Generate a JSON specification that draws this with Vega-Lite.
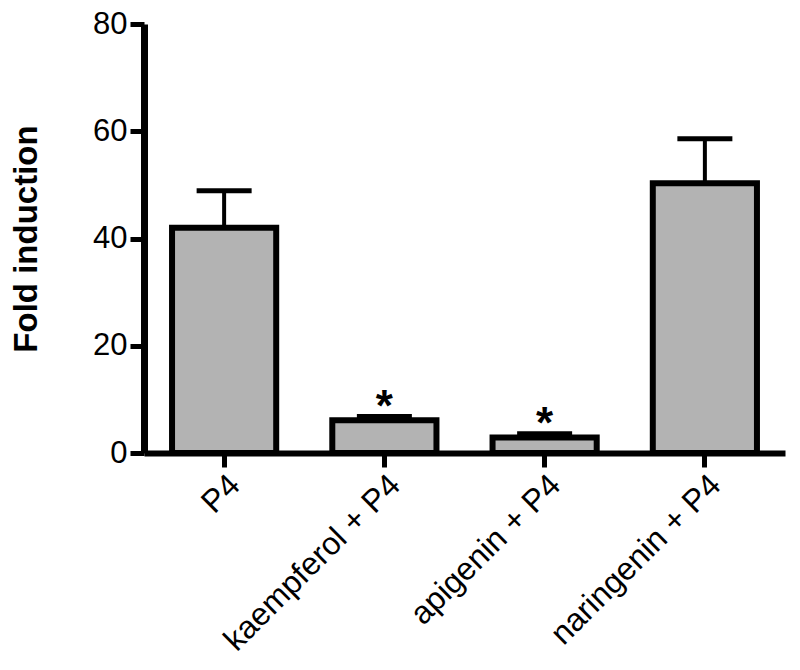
{
  "$schema": "https://vega.github.io/schema/vega-lite/v6.json",
  "width": 641,
  "height": 429,
  "autosize": {"type": "none"},
  "padding": {"left": 144, "top": 24, "right": 15, "bottom": 217},
  "background": "white",
  "config": {
    "view": {"stroke": null},
    "font": "Liberation Sans",
    "axis": {"labelFont": "Liberation Sans", "titleFont": "Liberation Sans", "labelColor": "black", "titleColor": "black", "domainColor": "black", "tickColor": "black", "grid": false}
  },
  "data": {
    "values": [
      {"treatment": "P4", "fold": 42.0, "err": 48.9, "sig": ""},
      {"treatment": "kaempferol + P4", "fold": 6.1, "err": 6.8, "sig": "*"},
      {"treatment": "apigenin + P4", "fold": 2.9, "err": 3.6, "sig": "*"},
      {"treatment": "naringenin + P4", "fold": 50.3, "err": 58.6, "sig": ""}
    ]
  },
  "encoding": {
    "x": {
      "field": "treatment",
      "type": "nominal",
      "sort": null,
      "scale": {"paddingInner": 0.35, "paddingOuter": 0.175},
      "axis": {
        "title": null,
        "labelAngle": -45,
        "labelFontSize": 32,
        "labelLimit": 400,
        "labelPadding": 2,
        "tickSize": 14,
        "tickWidth": 5,
        "domainWidth": 6
      }
    }
  },
  "layer": [
    {
      "mark": {"type": "rule", "color": "black", "strokeWidth": 4},
      "encoding": {
        "y": {"field": "fold", "type": "quantitative"},
        "y2": {"field": "err"}
      }
    },
    {
      "mark": {"type": "tick", "color": "black", "opacity": 1, "size": 55, "thickness": 5, "orient": "horizontal"},
      "encoding": {
        "y": {"field": "err", "type": "quantitative"}
      }
    },
    {
      "mark": {"type": "bar", "fill": "#b3b3b3", "stroke": "black", "strokeWidth": 6},
      "encoding": {
        "y": {
          "field": "fold",
          "type": "quantitative",
          "scale": {"domain": [0, 80], "nice": false},
          "axis": {
            "title": "Fold induction",
            "titleFontSize": 33,
            "titleFontWeight": "bold",
            "titlePadding": 49,
            "values": [0, 20, 40, 60, 80],
            "labelFontSize": 31,
            "labelPadding": 3,
            "tickSize": 14,
            "tickWidth": 5,
            "domainWidth": 7
          }
        }
      }
    },
    {
      "mark": {"type": "text", "fontSize": 44, "fontWeight": "bold", "baseline": "alphabetic", "dy": 4, "color": "black"},
      "encoding": {
        "y": {"field": "err", "type": "quantitative"},
        "text": {"field": "sig"}
      }
    }
  ]
}
